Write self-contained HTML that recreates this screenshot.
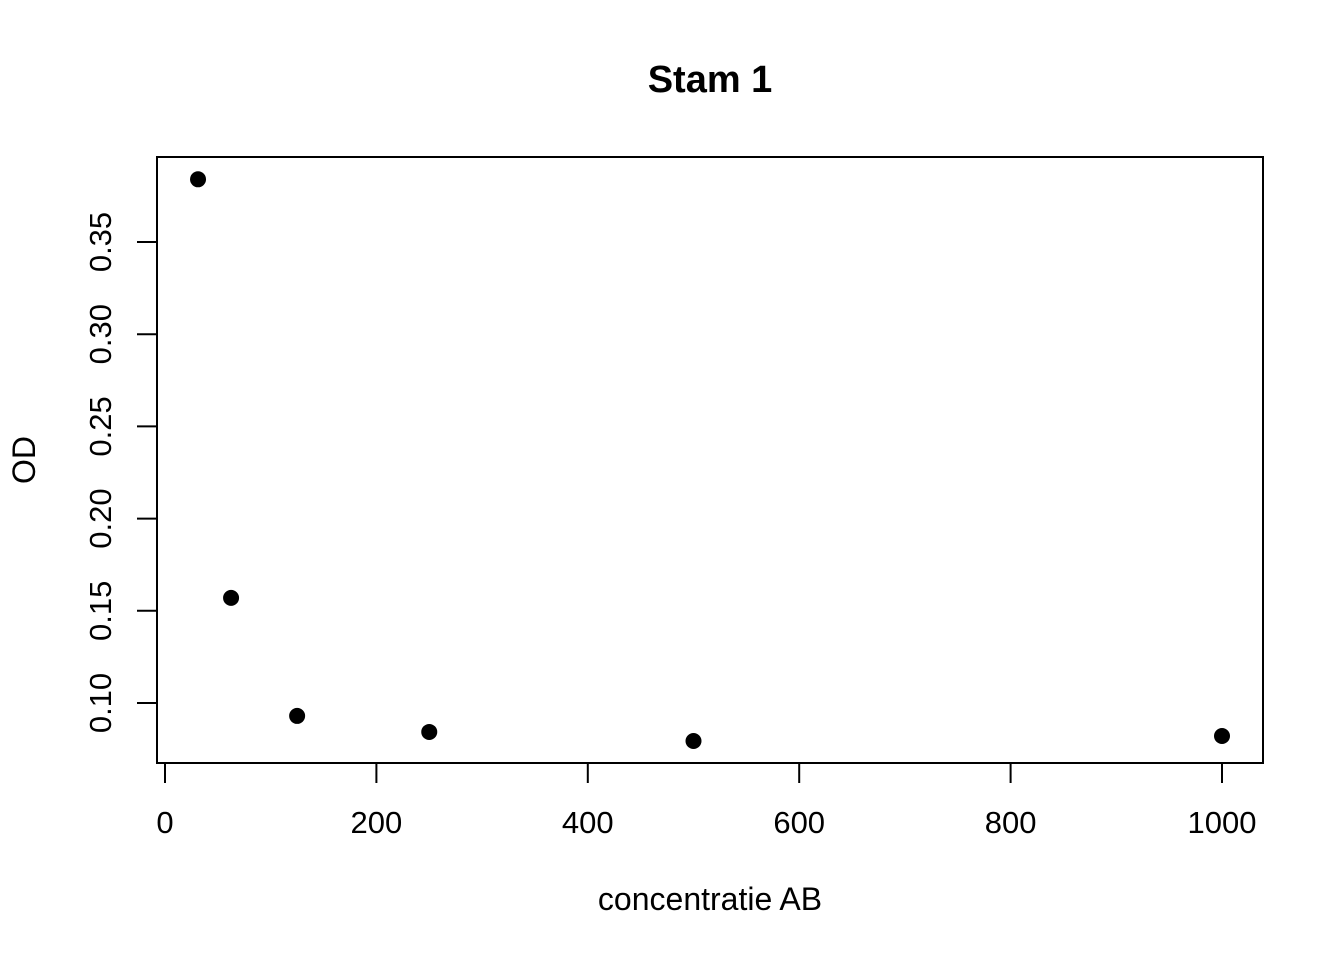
<!DOCTYPE html>
<html><head><meta charset="utf-8"><style>
html,body{margin:0;padding:0;background:#fff;}
svg{display:block;font-family:"Liberation Sans",Arial,sans-serif;}
</style></head><body>
<svg id="chart" width="1344" height="960" viewBox="0 0 1344 960">
<text x="710" y="92" text-anchor="middle" font-size="38" font-weight="bold">Stam 1</text>
<rect x="157" y="157" width="1106" height="606" fill="none" stroke="#000" stroke-width="2"/>
<g id="xaxis"></g>
<g id="yaxis"></g>
<g id="points"></g>
<text x="710" y="910" text-anchor="middle" font-size="32">concentratie AB</text>
<text transform="translate(35,460) rotate(-90)" text-anchor="middle" font-size="32">OD</text>
</svg>
<script>
const xValues = [31.25, 62.5, 125, 250, 500, 1000];
const yValues = [0.384, 0.157, 0.093, 0.0843, 0.0794, 0.0821];
const xTicks = [0, 200, 400, 600, 800, 1000];
const yTicks = [0.10, 0.15, 0.20, 0.25, 0.30, 0.35];
const NS = "http://www.w3.org/2000/svg";
function sx(v){return 165 + v*(1222-165)/1000;}
function sy(v){return 703 - (v-0.1)*(703-242)/0.25;}
function mk(tag, attrs, parent){const e=document.createElementNS(NS,tag);for(const k in attrs)e.setAttribute(k,attrs[k]);parent.appendChild(e);return e;}
const xa=document.getElementById('xaxis'), ya=document.getElementById('yaxis'), pts=document.getElementById('points');
let l=mk('line',{x1:sx(xTicks[0]),x2:sx(xTicks[xTicks.length-1]),y1:763,y2:763,stroke:'#000','stroke-width':2},xa);


xTicks.forEach(t=>{
  const tk=mk('line',{x1:sx(t),x2:sx(t),y1:763,y2:783,stroke:'#000','stroke-width':2},xa);
  
  
  const tx=mk('text',{x:sx(t),y:833,'text-anchor':'middle','font-size':31},xa);
  tx.textContent=String(t);
  
  
});
l=mk('line',{x1:157,x2:157,y1:sy(yTicks[0]),y2:sy(yTicks[yTicks.length-1]),stroke:'#000','stroke-width':2},ya);


yTicks.forEach(t=>{
  const tk=mk('line',{x1:137,x2:157,y1:sy(t),y2:sy(t),stroke:'#000','stroke-width':2},ya);
  
  
  const tx=mk('text',{transform:'translate(111,'+sy(t)+') rotate(-90)','text-anchor':'middle','font-size':31},ya);
  tx.textContent=t.toFixed(2);
  
  
});
xValues.forEach((v,i)=>{
  const c=mk('circle',{cx:sx(v),cy:sy(yValues[i]),r:8,fill:'#000'},pts);
  
  
});
</script>
</body></html>
